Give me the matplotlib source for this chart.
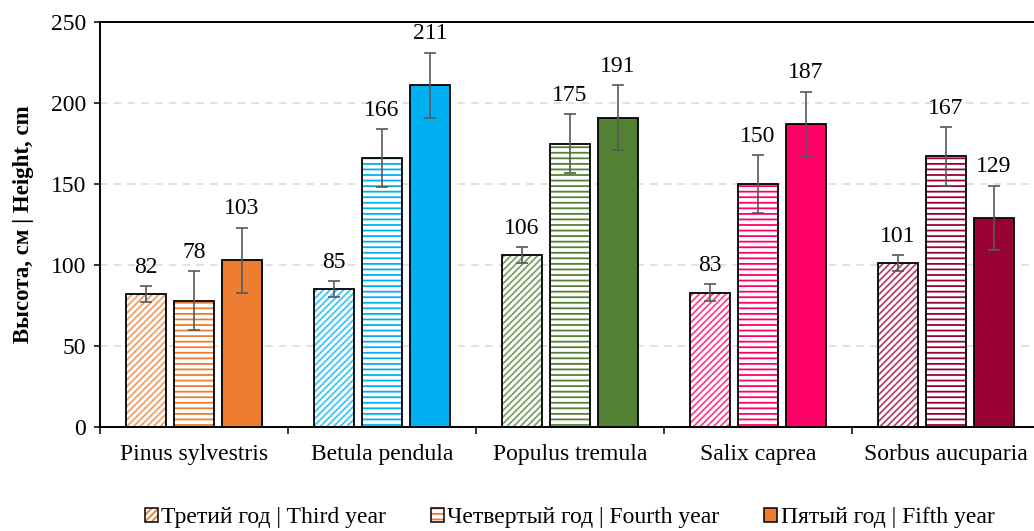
import numpy as np
import matplotlib
matplotlib.use("Agg")
import matplotlib.pyplot as plt
from matplotlib.patches import Patch
from matplotlib.legend_handler import HandlerTuple

plt.rcParams['font.family'] = ['Liberation Serif', 'DejaVu Serif']
plt.rcParams['hatch.linewidth'] = 1.3

# data
species = ['Pinus sylvestris', 'Betula pendula', 'Populus tremula', 'Salix caprea', 'Sorbus aucuparia']
colors = ['#ED7D31', '#00B0F0', '#548235', '#FF0066', '#990033']
series_names = ['Третий год | Third year', 'Четвертый год | Fourth year', 'Пятый год | Fifth year']
third_year = [82, 85, 106, 83, 101]
fourth_year = [78, 166, 175, 150, 167]
fifth_year = [103, 211, 191, 187, 129]
err_third = [5, 5, 5, 5, 5]
err_fourth = [18, 18, 18, 18, 18]
err_fifth = [20, 20, 20, 20, 20]

values = [third_year, fourth_year, fifth_year]
errors = [err_third, err_fourth, err_fifth]
hatches = ['/////', '---', None]
hatch_alpha = [0.75, 1.0, 1.0]

fig = plt.figure(figsize=(10.34, 5.31), dpi=100)
ax = fig.add_axes([100 / 1034, 104 / 531, 940 / 1034, 405 / 531])

x = np.arange(len(species))
width = 0.215
step = 0.255

for s in range(3):
    pos = x + (s - 1) * step
    for i in range(len(species)):
        v = values[s][i]
        if hatches[s]:
            ax.bar(pos[i], v, width, facecolor='white',
                   edgecolor=matplotlib.colors.to_rgba(colors[i], hatch_alpha[s]),
                   linewidth=0, hatch=hatches[s], zorder=2)
            ax.bar(pos[i], v, width, fill=False, edgecolor='black', linewidth=1.3, zorder=3)
        else:
            ax.bar(pos[i], v, width, facecolor=colors[i], edgecolor='black', linewidth=1.3, zorder=3)
    ax.errorbar(pos, values[s], yerr=errors[s], fmt='none', ecolor='#595959',
                elinewidth=1.2, capsize=4.5, capthick=1.2, zorder=4)
    for i in range(len(species)):
        ax.annotate(str(values[s][i]), (pos[i], values[s][i] + errors[s][i]),
                    xytext=(0, 6), textcoords='offset points', ha='center', va='bottom',
                    fontsize=17)

ax.set_xlim(-0.5, len(species) - 0.5)
ax.set_ylim(0, 250)
ax.set_yticks(np.arange(0, 251, 50))
ax.yaxis.grid(True, color='#D9D9D9', linestyle=(0, (5, 4)), linewidth=1.1, zorder=0)
ax.set_axisbelow(True)

ax.set_xticks(x)
ax.set_xticklabels(species)
ax.set_xticks(np.arange(-0.5, len(species)), minor=True)
ax.tick_params(axis='x', which='major', length=0, pad=12, labelsize=17)
ax.tick_params(axis='x', which='minor', length=5, width=1.1, direction='out')
ax.tick_params(axis='y', length=4, width=1.1, labelsize=17, pad=6)

for side in ['left', 'bottom', 'top']:
    ax.spines[side].set_linewidth(1.4)
    ax.spines[side].set_color('black')
ax.spines['right'].set_visible(False)

ax.set_ylabel('Высота, см | Height, cm', fontsize=16.5, fontweight='bold', labelpad=12)

handles = []
for s in range(3):
    if hatches[s]:
        h = (Patch(facecolor='white', edgecolor=colors[0], linewidth=0, hatch=hatches[s]),
             Patch(fill=False, edgecolor='black', linewidth=1.1))
    else:
        h = Patch(facecolor=colors[0], edgecolor='black', linewidth=1.1)
    handles.append(h)

fig.legend(handles, series_names, loc='lower center', bbox_to_anchor=(0.551, -0.035),
           ncol=3, frameon=False, fontsize=17, handlelength=0.55, handleheight=0.55,
           handletextpad=0.15, columnspacing=1.9,
           handler_map={tuple: HandlerTuple(ndivide=1, pad=0)})

fig.savefig('out.png', dpi=100)
